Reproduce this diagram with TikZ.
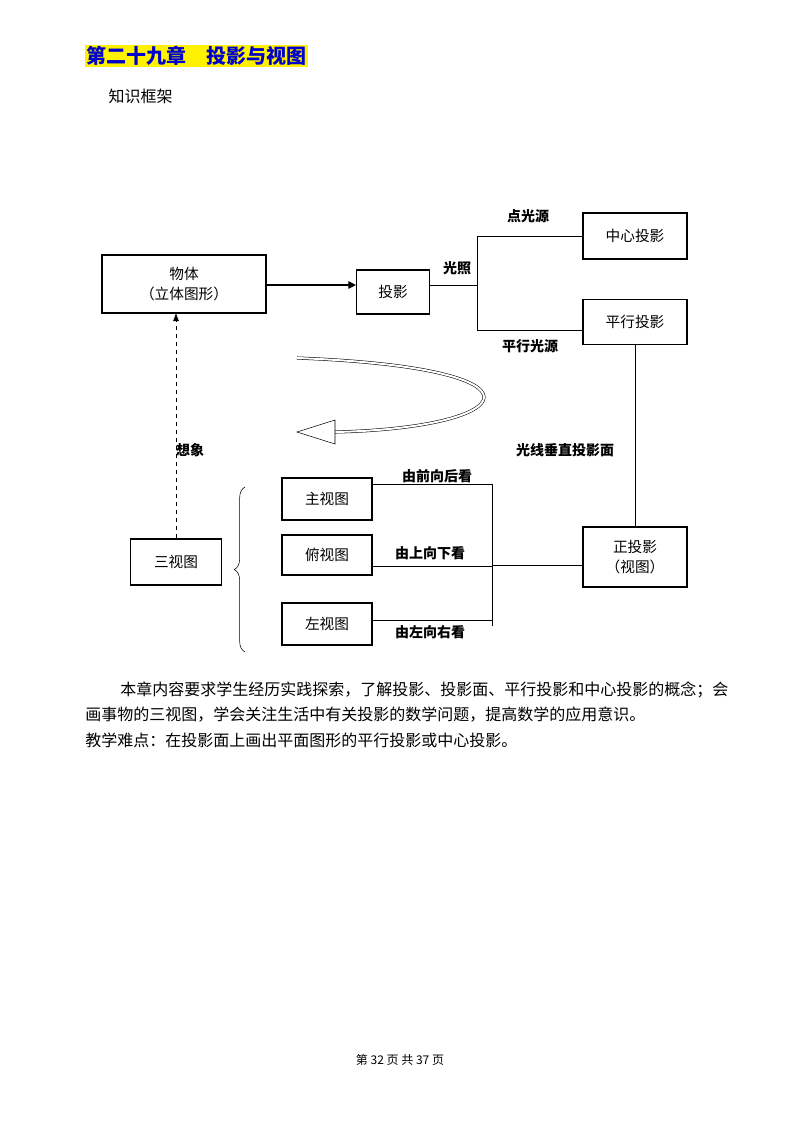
\documentclass[tikz,border=0pt]{standalone}
\usepackage{fontspec}
\setmainfont{Noto Sans CJK SC}
\usetikzlibrary{arrows.meta,positioning,calc,decorations.pathreplacing}
\begin{document}
\begin{tikzpicture}[
    x=0.75pt, y=-0.75pt,
    box/.style={draw, thick, align=center, inner sep=0pt, font=\fontsize{11}{15}\selectfont},
    lbl/.style={font=\bfseries\fontsize{10.5}{12}\selectfont, inner sep=1pt},
    >={Triangle[length=2mm]},
  ]
    \useasboundingbox (0,0) rectangle (800,1129);
    % Title
    \node[fill=yellow, text=blue!80!black, font=\bfseries\fontsize{15}{18}\selectfont, inner sep=1pt, anchor=west] (title) at (85,56) {第二十九章\quad 投影与视图};
    \node[font=\fontsize{12}{14}\selectfont, anchor=west] (frame) at (104,96) {知识框架};
    % Boxes
    \node[box, minimum width=123pt, minimum height=43.5pt] (obj) at (184,284) {物体\\（立体图形）};
    \node[box, minimum width=54.75pt, minimum height=33pt] (proj) at (393,292) {投影};
    \node[box, minimum width=78pt, minimum height=34.5pt] (central) at (635,236) {中心投影};
    \node[box, minimum width=78pt, minimum height=33.75pt] (parallel) at (635,322) {平行投影};
    \node[box, minimum width=78pt, minimum height=45pt] (ortho) at (635,557) {正投影\\（视图）};
    \node[box, minimum width=68.25pt, minimum height=34.5pt] (three) at (176,562) {三视图};
    \node[box, minimum width=67.5pt, minimum height=31.5pt] (front) at (327,499) {主视图};
    \node[box, minimum width=67.5pt, minimum height=30pt] (top) at (327,555) {俯视图};
    \node[box, minimum width=67.5pt, minimum height=31.5pt] (left) at (327,624) {左视图};
    % Junctions
    \coordinate (j1) at (477,285);
    \coordinate (j2) at (492,565);
    % Edges
    \draw[->, thick] (obj.east |- 0,285) -- (proj.west |- 0,285);
    \draw (proj.east |- j1) -- (j1);
    \draw (j1 |- central) -- (j1 |- 0,330);
    \draw (j1 |- central) -- (central.west);
    \draw (j1 |- 0,330) -- (parallel.west |- 0,330);
    \draw (parallel.south) -- (ortho.north);
    \draw (j2 |- 0,484) -- (j2 |- 0,626);
    \draw (front.east |- 0,484) -- (j2 |- 0,484);
    \draw (top.east |- 0,566) -- (j2 |- 0,566);
    \draw (left.east |- 0,620) -- (j2 |- 0,620);
    \draw (j2) -- (ortho.west |- j2);
    \draw[->, dashed] (three.north) -- (three.north |- obj.south);
    % Curved arrow
    \draw[double, double distance=1.5pt] (297,358) .. controls (560,368) and (520,428) .. (335,432);
    \draw[fill=white] (335,420) -- (297,432) -- (335,444) -- cycle;
    % Brace
    \draw[decorate, decoration={brace, amplitude=8pt}] (245,652) -- (245,487);
    % Labels
    \node[lbl] at (528,216) {点光源};
    \node[lbl] at (457,268) {光照};
    \node[lbl] at (530,346) {平行光源};
    \node[lbl] at (565,450) {光线垂直投影面};
    \node[lbl] at (190,450) {想象};
    \node[lbl] at (437,476) {由前向后看};
    \node[lbl] at (430,553) {由上向下看};
    \node[lbl] at (430,632) {由左向右看};
    % Text
    \node[font=\fontsize{12}{14}\selectfont, anchor=west, inner sep=0pt] (p1) at (120,690) {本章内容要求学生经历实践探索，了解投影、投影面、平行投影和中心投影的概念；会};
    \node[font=\fontsize{12}{14}\selectfont, anchor=west, inner sep=0pt] (p2) at (85,715) {画事物的三视图，学会关注生活中有关投影的数学问题，提高数学的应用意识。};
    \node[font=\fontsize{12}{14}\selectfont, anchor=west, inner sep=0pt] (p3) at (85,740) {教学难点：在投影面上画出平面图形的平行投影或中心投影。};
    \node[font=\fontsize{9}{11}\selectfont] (foot) at (400,1060) {第 32 页 共 37 页};
  \end{tikzpicture}
\end{document}
